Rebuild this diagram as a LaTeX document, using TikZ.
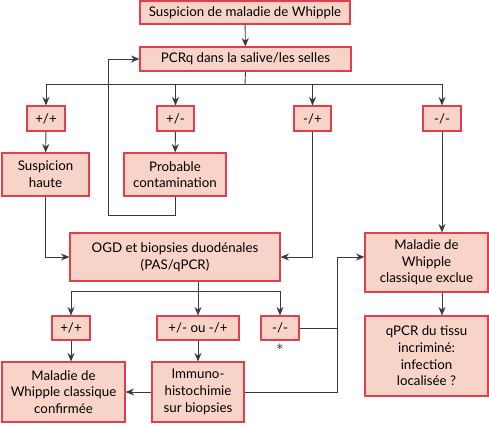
\documentclass[tikz,border=0pt]{standalone}
\usepackage{fontspec}
\setmainfont{Lato}
\usepackage{tikz}
\usetikzlibrary{positioning,arrows.meta}
\usepackage{xcolor}
\definecolor{boxfill}{HTML}{F7D3C8}
\definecolor{boxline}{HTML}{E23F4E}
\definecolor{linegray}{HTML}{3A3A3A}

\begin{document}
\begin{tikzpicture}[x=1pt, y=-1pt,
    font=\fontsize{13.3}{16.7}\selectfont,
    box/.style={draw=boxline, fill=boxfill, line width=1.1pt, align=center, inner sep=0pt},
    tag/.style={box, minimum height=24pt},
    link/.style={draw=linegray, line width=0.9pt},
    arr/.style={link, -{Stealth[length=8.5pt, width=7pt]}}]
    \useasboundingbox (0,0) rectangle (489,424);

    \coordinate (TOP) at (245, 12.5);
    \coordinate (PCR) at (245.5, 59);
    \coordinate (SPLITA) at (245, 84);

    \coordinate (PPA) at (46, 118.5);
    \coordinate (PMA) at (175.5, 118.5);
    \coordinate (MPA) at (312.5, 118.5);
    \coordinate (MMA) at (442, 118.5);

    \coordinate (HAUTE) at (45.5, 174.5);
    \coordinate (CONTAM) at (175, 174.5);
    \coordinate (LOOP) at (108, 215);

    \coordinate (OGD) at (175, 257);
    \coordinate (EXCLUE) at (426.5, 262.5);
    \coordinate (QPCR) at (426.5, 356);
    \coordinate (SPLITB) at (198, 291);
    \coordinate (JOIN) at (337, 257);

    \coordinate (PPB) at (71, 328);
    \coordinate (PMB) at (198, 328);
    \coordinate (MMB) at (280, 328);
    \coordinate (STAR) at (280, 347);

    \coordinate (CONFIRM) at (63.5, 392);
    \coordinate (IMMUNO) at (198, 392);

    \node (top) [box, minimum width=210pt, minimum height=23pt] at (TOP) {Suspicion de maladie de Whipple};
    \node (pcr) [box, minimum width=211pt, minimum height=24pt] at (PCR) {PCRq dans la salive/les selles};

    \node (ppa) [tag, minimum width=38pt, minimum height=25pt] at (PPA) {+/+};
    \node (pma) [tag, minimum width=37pt, minimum height=25pt] at (PMA) {+/-};
    \node (mpa) [tag, minimum width=37pt, minimum height=25pt] at (MPA) {-/+};
    \node (mma) [tag, minimum width=38pt, minimum height=25pt] at (MMA) {-/-};

    \node (haute) [box, minimum width=87pt, minimum height=43pt] at (HAUTE) {Suspicion\\haute};
    \node (contam) [box, minimum width=102pt, minimum height=43pt] at (CONTAM) {Probable\\contamination};

    \node (ogd) [box, minimum width=210pt, minimum height=48pt] at (OGD) {OGD et biopsies duodénales\\(PAS/qPCR)};
    \node (exclue) [box, minimum width=123pt, minimum height=59pt] at (EXCLUE) {Maladie de\\Whipple\\classique exclue};
    \node (qpcr) [box, minimum width=123pt, minimum height=80pt] at (QPCR) {qPCR du tissu\\incriminé:\\infection\\localisée ?};

    \node (ppb) [tag, minimum width=38pt] at (PPB) {+/+};
    \node (pmb) [tag, minimum width=82pt] at (PMB) {+/- ou -/+};
    \node (mmb) [tag, minimum width=38pt] at (MMB) {-/-};
    \node (star) [inner sep=0pt] at (STAR) {$\ast$};

    \node (confirm) [box, minimum width=123pt, minimum height=60pt] at (CONFIRM) {Maladie de\\Whipple classique\\confirmée};
    \node (immuno) [box, minimum width=92pt, minimum height=60pt] at (IMMUNO) {Immuno-\\histochimie\\sur biopsies};

    % first test
    \draw [arr] (top) -- (pcr);
    \draw [link] (pcr.south) -- (SPLITA);
    \draw [link] (ppa |- SPLITA) -- (mma |- SPLITA);
    \draw [arr] (ppa |- SPLITA) -- (ppa);
    \draw [arr] (pma |- SPLITA) -- (pma);
    \draw [arr] (mpa |- SPLITA) -- (mpa);
    \draw [arr] (mma |- SPLITA) -- (mma);

    \draw [arr] (ppa) -- (haute);
    \draw [arr] (pma) -- (contam);
    \draw [arr] (contam.south) |- (LOOP) |- (pcr.west);
    \draw [arr] (haute.south) |- (ogd.west);
    \draw [arr] (mpa.south) |- (ogd.east);
    \draw [arr] (mma.south) -- (mma.south |- exclue.north);
    \draw [arr] (exclue.south -| mma) -- (qpcr.north -| mma);

    % biopsies
    \draw [link] (ogd.south -| SPLITB) -- (SPLITB);
    \draw [link] (ppb |- SPLITB) -- (mmb |- SPLITB);
    \draw [arr] (ppb |- SPLITB) -- (ppb);
    \draw [arr] (pmb |- SPLITB) -- (pmb);
    \draw [arr] (mmb |- SPLITB) -- (mmb);

    \draw [arr] (ppb.south) -- (ppb.south |- confirm.north);
    \draw [arr] (pmb) -- (immuno);
    \draw [arr] (immuno) -- (confirm);
    \draw [link] (mmb.east) -| (JOIN);
    \draw [arr] (immuno.east) -| (JOIN) -- (JOIN -| exclue.west);
  \end{tikzpicture}
\end{document}
